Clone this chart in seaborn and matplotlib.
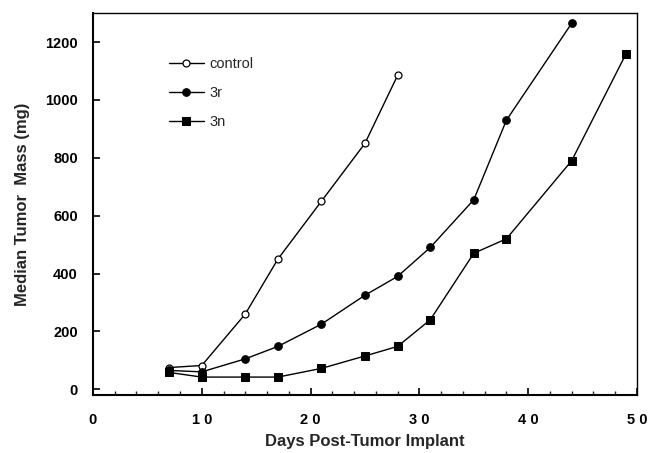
import pandas as pd
import numpy as np
import matplotlib
matplotlib.use("Agg")
import matplotlib.pyplot as plt
import seaborn as sns
from matplotlib.ticker import MultipleLocator

sns.set_theme(style="ticks")
plt.rcParams['font.family'] = ['Liberation Sans', 'DejaVu Sans']

# Median tumor mass (mg)
control_days = [7, 10, 14, 17, 21, 25, 28]
control_mass = [75, 82, 260, 450, 650, 850, 1085]

r3_days = [7, 10, 14, 17, 21, 25, 28, 31, 35, 38, 44]
r3_mass = [65, 60, 105, 148, 225, 325, 390, 490, 655, 930, 1265]

n3_days = [7, 10, 14, 17, 21, 25, 28, 31, 35, 38, 44, 49]
n3_mass = [58, 42, 42, 42, 72, 115, 148, 240, 470, 520, 790, 1160]

x_ticks = [0, 10, 20, 30, 40, 50]
x_tick_labels = ["0", "1 0", "2 0", "3 0", "4 0", "5 0"]
y_ticks = [0, 200, 400, 600, 800, 1000, 1200]

fig, ax = plt.subplots(figsize=(6.5, 4.53), dpi=100)
fig.subplots_adjust(left=0.143, right=0.98, bottom=0.128, top=0.971)

sns.lineplot(x=control_days, y=control_mass, ax=ax, color="black", lw=1,
             marker="o", markersize=5, markerfacecolor="white",
             markeredgecolor="black", markeredgewidth=0.9, label="control")
sns.lineplot(x=r3_days, y=r3_mass, ax=ax, color="black", lw=1,
             marker="o", markersize=5.5, markerfacecolor="black",
             markeredgecolor="black", label="3r")
sns.lineplot(x=n3_days, y=n3_mass, ax=ax, color="black", lw=1,
             marker="s", markersize=5.5, markerfacecolor="black",
             markeredgecolor="black", label="3n")

ax.set_xlim(0, 50)
ax.set_ylim(-20, 1300)
ax.set_xticks(x_ticks)
ax.set_xticklabels(x_tick_labels)
ax.xaxis.set_minor_locator(MultipleLocator(2))
ax.set_yticks(y_ticks)

for side in ["top", "right", "left", "bottom"]:
    ax.spines[side].set_visible(True)
    ax.spines[side].set_color("black")
ax.spines["left"].set_linewidth(1.5)
ax.spines["bottom"].set_linewidth(1.5)
ax.spines["top"].set_linewidth(1.0)
ax.spines["right"].set_linewidth(1.0)

ax.tick_params(axis="x", which="major", direction="in", length=5, width=1.2,
               pad=13, labelsize=10.5, colors="black")
ax.tick_params(axis="x", which="minor", direction="in", length=3, width=1)
ax.tick_params(axis="y", which="major", direction="in", length=5, width=1.2,
               pad=11, labelsize=10.5, colors="black")
for lbl in ax.get_xticklabels() + ax.get_yticklabels():
    lbl.set_fontweight("bold")

ax.set_xlabel("Days Post-Tumor Implant", fontsize=12, fontweight="bold", labelpad=5)
ax.set_ylabel("Median Tumor  Mass (mg)", fontsize=12, fontweight="bold", labelpad=11)

ax.legend(loc="upper left", bbox_to_anchor=(0.115, 0.92), frameon=False,
          handlelength=2.4, labelspacing=1.05, fontsize=10.5, handletextpad=0.4)

plt.savefig("out.png", dpi=100)
plt.close()
